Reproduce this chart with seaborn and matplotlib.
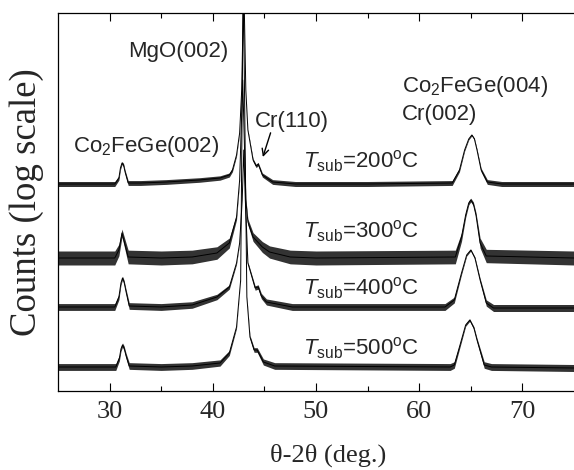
import numpy as np
import pandas as pd
import matplotlib
matplotlib.use("Agg")
import matplotlib.pyplot as plt
from matplotlib.ticker import NullLocator
import seaborn as sns

# 2theta (deg.) and log10 counts, curves already stacked
two_theta_200 = [25.0, 28.0, 30.5, 30.9, 31.05, 31.2, 31.35, 31.5, 31.8, 33.0,
                 35.5, 38.7, 40.7, 41.6, 41.9, 42.3, 42.6, 42.8, 43.0, 43.2,
                 43.4, 43.9, 44.2, 44.4, 44.8, 45.8, 48.0, 55.0, 63.2, 63.9,
                 64.4, 64.8, 65.1, 65.35, 65.6, 66.0, 66.6, 68.0, 75.0]
log_counts_200 = [5.14, 5.14, 5.14, 5.26, 5.46, 5.56, 5.52, 5.38, 5.16, 5.16,
                  5.18, 5.22, 5.26, 5.32, 5.42, 5.72, 6.16, 7.02, 9.22, 7.02,
                  6.22, 5.62, 5.50, 5.54, 5.32, 5.18, 5.14, 5.14, 5.16, 5.42,
                  5.82, 6.04, 6.12, 6.04, 5.82, 5.42, 5.18, 5.14, 5.14]

two_theta_300 = [25.0, 30.5, 30.9, 31.2, 31.5, 31.8, 35.0, 38.0, 40.4, 41.6,
                 42.3, 42.6, 42.9, 43.2, 43.4, 43.9, 44.8, 45.5, 47.5, 50.0,
                 63.5, 64.1, 64.5, 64.8, 65.0, 65.25, 65.5, 65.9, 66.5, 75.0]
log_counts_300 = [3.66, 3.66, 3.82, 4.16, 3.92, 3.68, 3.66, 3.68, 3.76, 3.96,
                  4.48, 5.22, 7.22, 4.82, 4.38, 4.08, 3.88, 3.78, 3.68, 3.66,
                  3.68, 4.08, 4.52, 4.76, 4.82, 4.74, 4.52, 3.96, 3.70, 3.66]

two_theta_400 = [25.0, 30.5, 30.9, 31.1, 31.25, 31.4, 31.6, 31.9, 35.0, 38.0,
                 40.4, 41.6, 42.3, 42.6, 42.85, 43.0, 43.15, 43.4, 44.1, 44.4,
                 44.7, 45.2, 47.7, 62.5, 63.4, 64.1, 64.6, 65.0, 65.4, 65.9,
                 66.5, 67.2, 75.0]
log_counts_400 = [2.68, 2.68, 2.88, 3.16, 3.26, 3.18, 2.98, 2.70, 2.68, 2.72,
                  2.88, 3.08, 3.56, 3.96, 4.82, 5.82, 4.82, 3.56, 3.06, 3.08,
                  2.90, 2.78, 2.68, 2.68, 2.82, 3.36, 3.72, 3.82, 3.66, 3.22,
                  2.76, 2.66, 2.66]

two_theta_500 = [25.0, 30.6, 30.95, 31.1, 31.25, 31.4, 31.6, 31.9, 35.0, 38.0,
                 40.7, 41.6, 42.3, 42.7, 42.95, 43.3, 43.6, 44.0, 44.3, 44.9,
                 46.0, 63.0, 63.4, 63.9, 64.5, 64.9, 65.3, 65.6, 66.3, 67.0,
                 75.0]
log_counts_500 = [1.48, 1.48, 1.66, 1.84, 1.92, 1.86, 1.70, 1.50, 1.48, 1.50,
                  1.56, 1.76, 2.28, 3.22, 9.22, 2.88, 2.08, 1.82, 1.82, 1.58,
                  1.50, 1.48, 1.52, 1.88, 2.32, 2.42, 2.26, 2.02, 1.52, 1.48,
                  1.46]

# half-width of the noise band on the baseline (decades)
noise_200 = 0.05
noise_300 = 0.14
noise_400 = 0.07
noise_500 = 0.07

samples = ["200", "300", "400", "500"]
curves = {
    "200": (two_theta_200, log_counts_200, noise_200),
    "300": (two_theta_300, log_counts_300, noise_300),
    "400": (two_theta_400, log_counts_400, noise_400),
    "500": (two_theta_500, log_counts_500, noise_500),
}

frames = []
for s in samples:
    x, y, _ = curves[s]
    frames.append(pd.DataFrame({"two_theta": x,
                                "counts": 10 ** np.array(y),
                                "sample": s}))
df = pd.concat(frames, ignore_index=True)

sns.set_theme(style="ticks")
plt.rcParams["font.family"] = ["Liberation Sans", "DejaVu Sans"]
plt.rcParams["mathtext.fontset"] = "custom"
plt.rcParams["mathtext.rm"] = "Liberation Sans"
plt.rcParams["mathtext.it"] = "Liberation Sans:italic"

fig = plt.figure(figsize=(5.74, 4.70), dpi=100)
ax = fig.add_axes([58 / 574, 79 / 470, 516 / 574, 378 / 470])

# noisy band around each trace, narrowing where counts are high
for s in samples:
    x, y, w = curves[s]
    y = np.array(y)
    h = w * 10 ** (-(y - y.min()) / 2)
    ax.fill_between(x, 10 ** (y - h), 10 ** (y + h), color="black",
                    alpha=0.8, lw=0)

sns.lineplot(data=df, x="two_theta", y="counts", hue="sample",
             palette=["black"] * 4, estimator=None, sort=False,
             legend=False, lw=0.7, ax=ax)

ax.set_yscale("log")
ax.set_xlim(25, 75)
ax.set_ylim(10, 10 ** 8.56)
ax.set_yticks([])
ax.yaxis.set_minor_locator(NullLocator())
ax.set_xticks([30, 40, 50, 60, 70])
ax.set_xticks([35, 45, 55, 65], minor=True)
ax.tick_params(axis="x", which="both", direction="in", top=True,
               width=0.8, color="black", pad=7)
ax.tick_params(axis="x", which="major", length=5.5)
ax.tick_params(axis="x", which="minor", length=3.8)
for lab in ax.get_xticklabels():
    lab.set_fontfamily("Liberation Serif")
    lab.set_fontsize(19)
for sp in ax.spines.values():
    sp.set_linewidth(0.9)
    sp.set_color("black")
ax.spines["right"].set_visible(False)

ax.set_xlabel("\u03b8-2\u03b8 (deg.)", fontfamily="Liberation Serif",
              fontsize=19)
ax.xaxis.set_label_coords(0.523, -0.138)
ax.set_ylabel("Counts (log scale)", fontfamily="Liberation Serif",
              fontsize=26.5)
ax.yaxis.set_label_coords(-0.028, 0.5)

tr = ax.transAxes
fs = 16
ax.text(0.136, 0.884, "MgO(002)", transform=tr, fontsize=fs, va="baseline")
ax.text(0.029, 0.632, r"Co$_2$FeGe(002)", transform=tr, fontsize=fs,
        va="baseline")
ax.text(0.382, 0.698, "Cr(110)", transform=tr, fontsize=fs, va="baseline")
ax.annotate("", xy=(0.397, 0.619), xytext=(0.412, 0.683),
            xycoords=tr, textcoords=tr,
            arrowprops=dict(arrowstyle="->", color="black", lw=1.0,
                            shrinkA=0, shrinkB=0))
ax.text(0.667, 0.791, r"Co$_2$FeGe(004)", transform=tr, fontsize=fs,
        va="baseline")
ax.text(0.667, 0.717, "Cr(002)", transform=tr, fontsize=fs, va="baseline")

label_y = {"200": 0.590, "300": 0.405, "400": 0.254, "500": 0.095}
for s in samples:
    ax.text(0.475, label_y[s],
            r"$\mathit{T}_{\mathrm{sub}}$=" + s + r"$^{\mathrm{o}}$C",
            transform=tr, fontsize=fs, va="baseline")

fig.savefig("out.png", dpi=100)
